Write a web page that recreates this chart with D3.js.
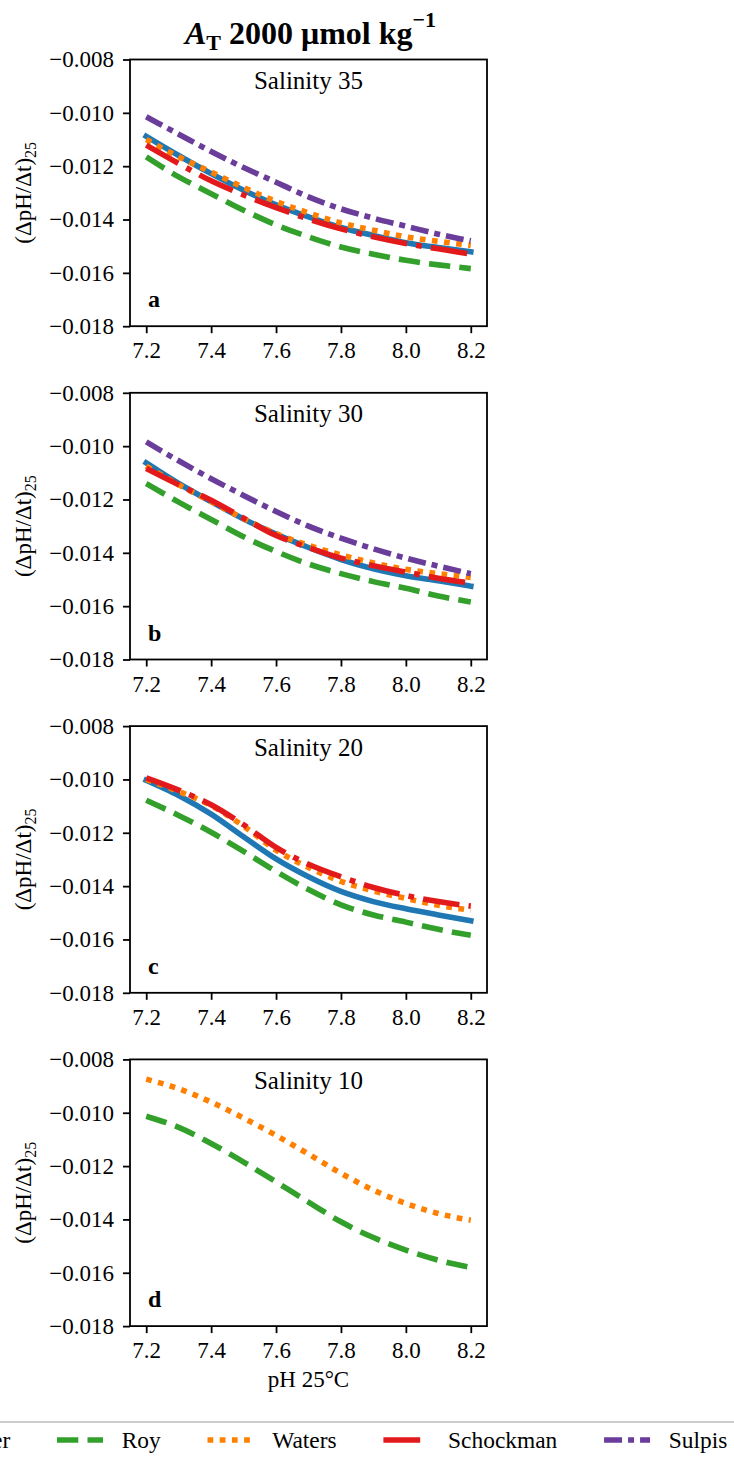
<!DOCTYPE html>
<html>
<head>
<meta charset="utf-8">
<script src="https://cdn.jsdelivr.net/npm/d3@7"></script>
<style>
  html, body { margin: 0; padding: 0; background: #ffffff; }
  svg { display: block; }
</style>
</head>
<body>
<svg id="chart" width="734" height="1460"></svg>
<script>
// pH (25 °C) grid on which each curve was evaluated
const phValues = [7.2, 7.3, 7.4, 7.5, 7.6, 7.7, 7.8, 7.9, 8.0, 8.1, 8.2];

// Salinity 35
const lueker35    = [-0.01088, -0.01160, -0.01228, -0.01290, -0.01345, -0.01390, -0.01430, -0.01460, -0.01487, -0.01505, -0.01521];
const roy35       = [-0.01165, -0.01240, -0.01303, -0.01365, -0.01420, -0.01465, -0.01503, -0.01530, -0.01553, -0.01570, -0.01584];
const waters35    = [-0.01100, -0.01165, -0.01222, -0.01280, -0.01332, -0.01375, -0.01413, -0.01440, -0.01465, -0.01482, -0.01497];
const schockman35 = [-0.01121, -0.01190, -0.01255, -0.01308, -0.01355, -0.01398, -0.01435, -0.01465, -0.01490, -0.01510, -0.01530];
const sulpis35    = [-0.01015, -0.01080, -0.01145, -0.01205, -0.01260, -0.01315, -0.01360, -0.01395, -0.01425, -0.01455, -0.01480];

// Salinity 30
const lueker30    = [-0.01063, -0.01140, -0.01208, -0.01273, -0.01330, -0.01380, -0.01425, -0.01460, -0.01486, -0.01505, -0.01525];
const roy30       = [-0.01140, -0.01210, -0.01275, -0.01340, -0.01395, -0.01442, -0.01478, -0.01508, -0.01533, -0.01562, -0.01584];
const waters30    = [-0.01075, -0.01145, -0.01208, -0.01272, -0.01328, -0.01372, -0.01408, -0.01438, -0.01462, -0.01478, -0.01492];
const schockman30 = [-0.01084, -0.01145, -0.01203, -0.01270, -0.01335, -0.01380, -0.01420, -0.01448, -0.01472, -0.01495, -0.01513];
const sulpis30    = [-0.00984, -0.01055, -0.01122, -0.01185, -0.01245, -0.01300, -0.01345, -0.01385, -0.01420, -0.01450, -0.01478];

// Salinity 20
const lueker20    = [-0.01003, -0.01060, -0.01130, -0.01215, -0.01298, -0.01365, -0.01420, -0.01458, -0.01485, -0.01508, -0.01530];
const roy20       = [-0.01078, -0.01135, -0.01198, -0.01270, -0.01345, -0.01413, -0.01470, -0.01508, -0.01535, -0.01562, -0.01584];
const waters20    = [-0.01000, -0.01045, -0.01098, -0.01175, -0.01265, -0.01330, -0.01382, -0.01418, -0.01446, -0.01472, -0.01490];
const schockman20 = [-0.00994, -0.01040, -0.01095, -0.01170, -0.01255, -0.01318, -0.01365, -0.01405, -0.01435, -0.01458, -0.01475];

// Salinity 10
const roy10       = [-0.01013, -0.01055, -0.01115, -0.01185, -0.01259, -0.01335, -0.01409, -0.01468, -0.01515, -0.01553, -0.01580];
const waters10    = [-0.00874, -0.00910, -0.00960, -0.01020, -0.01085, -0.01155, -0.01227, -0.01290, -0.01340, -0.01378, -0.01403];

const methodNames = ["Lueker", "Roy", "Waters", "Schockman", "Sulpis"];
const salinityLevels = [35, 30, 20, 10];
const panelLetters = ["a", "b", "c", "d"];
const xTickValues = [7.2, 7.4, 7.6, 7.8, 8.0, 8.2];
const yTickValues = [-0.018, -0.016, -0.014, -0.012, -0.010, -0.008];

const panelSeries = [
  { Lueker: lueker35, Roy: roy35, Waters: waters35, Schockman: schockman35, Sulpis: sulpis35 },
  { Lueker: lueker30, Roy: roy30, Waters: waters30, Schockman: schockman30, Sulpis: sulpis30 },
  { Lueker: lueker20, Roy: roy20, Waters: waters20, Schockman: schockman20 },
  { Roy: roy10, Waters: waters10 }
];

// line appearance per method
const LW = 5.6;
const styles = {
  Lueker:    { color: "#1f78b4", dash: null, cap: "square" },
  Roy:       { color: "#33a02c", dash: "21.3,9.2", cap: "butt" },
  Waters:    { color: "#ff7f00", dash: "5.7,6.5", cap: "butt" },
  Schockman: { color: "#e31a1c", dash: "36.8,9.2,5.7,9.2", cap: "butt" },
  Sulpis:    { color: "#6a3d9a", dash: "18,6,6,6", cap: "butt" }
};

const SERIF = '"Liberation Serif", "Times New Roman", Times, serif';

const svg = d3.select("#chart");
svg.append("rect").attr("width", 734).attr("height", 1460).attr("fill", "#fff");

// helper: serif text element
function txt(parent, size) {
  return parent.append("text")
    .style("font-family", SERIF)
    .style("font-size", size + "px")
    .style("fill", "#000");
}

const plotLeft = 130, plotRight = 487;
const plotTop0 = 59.5, panelStep = 333.3, plotH = 266.7;
const tickFont = 23;

const x = d3.scaleLinear().domain([7.15, 8.25]).range([plotLeft, plotRight]);
const fmtY = d3.format(".3f");
const fmtX = d3.format(".1f");

// title
const title = txt(svg, 32)
  .attr("x", (plotLeft + plotRight) / 2 + 2)
  .attr("y", 44)
  .attr("text-anchor", "middle")
  .style("font-weight", "bold");
title.append("tspan").style("font-style", "italic").text("A");
title.append("tspan").style("font-size", "22px").attr("dy", 6).text("T");
title.append("tspan").attr("dy", -6).text(" 2000 μmol kg");
title.append("tspan").style("font-size", "22px").attr("dy", -17).text("−1");

salinityLevels.forEach((sal, i) => {
  const top = plotTop0 + i * panelStep;
  const y = d3.scaleLinear().domain([-0.018, -0.008]).range([top + plotH, top]);
  const g = svg.append("g");

  const clipId = "clip" + i;
  g.append("clipPath").attr("id", clipId)
    .append("rect").attr("x", plotLeft).attr("y", top)
    .attr("width", plotRight - plotLeft).attr("height", plotH);

  const line = d3.line()
    .x((d, k) => x(phValues[k]))
    .y(d => y(d))
    .curve(d3.curveMonotoneX);

  const series = panelSeries[i];
  const lines = g.append("g").attr("clip-path", `url(#${clipId})`);
  methodNames.forEach(m => {
    if (!series[m]) return;
    const st = styles[m];
    lines.append("path")
      .datum(series[m])
      .attr("d", line)
      .attr("fill", "none")
      .attr("stroke", st.color)
      .attr("stroke-width", LW)
      .attr("stroke-linecap", st.cap)
      .attr("stroke-linejoin", "round")
      .attr("stroke-dasharray", st.dash);
  });

  // axes
  const yAxis = d3.axisLeft(y).tickValues(yTickValues).tickFormat(fmtY)
    .tickSize(7).tickPadding(9);
  const gy = g.append("g").attr("transform", `translate(${plotLeft},0)`).call(yAxis);
  const xAxis = d3.axisBottom(x).tickValues(xTickValues).tickFormat(fmtX)
    .tickSize(7).tickPadding(9);
  const gx = g.append("g").attr("transform", `translate(0,${top + plotH})`).call(xAxis);
  [gy, gx].forEach(a => {
    a.select(".domain").remove();
    a.selectAll(".tick line").attr("stroke", "#000").attr("stroke-width", 1.8);
    a.selectAll(".tick text")
      .style("font-family", SERIF)
      .style("font-size", tickFont + "px").style("fill", "#000");
  });
  gx.selectAll(".tick text").attr("dy", null).attr("y", 32);

  // frame
  g.append("rect")
    .attr("x", plotLeft).attr("y", top)
    .attr("width", plotRight - plotLeft).attr("height", plotH)
    .attr("fill", "none").attr("stroke", "#000").attr("stroke-width", 1.8);

  // salinity heading inside panel
  txt(g, 25)
    .attr("x", (plotLeft + plotRight) / 2).attr("y", top + 29.5)
    .attr("text-anchor", "middle")
    .text("Salinity " + sal);

  // panel letter
  txt(g, 24)
    .attr("x", 148).attr("y", top + plotH - 19)
    .style("font-weight", "bold")
    .text(panelLetters[i]);

  // y label
  const yl = txt(g, 23)
    .attr("transform", `translate(31,${top + plotH / 2}) rotate(-90)`)
    .attr("text-anchor", "middle");
  yl.append("tspan").text("(ΔpH/Δt)");
  yl.append("tspan").style("font-size", "16px").attr("dy", 5).text("25");
});

// x label
txt(svg, 23)
  .attr("x", (plotLeft + plotRight) / 2).attr("y", 1387)
  .attr("text-anchor", "middle")
  .text("pH 25°C");

// legend along the bottom
const legendY = 1440;
const legendFont = 23.4;
svg.append("rect")
  .attr("x", -200).attr("y", 1422).attr("width", 1134).attr("height", 80)
  .attr("rx", 6).attr("fill", "#fff").attr("stroke", "#cccccc").attr("stroke-width", 1.8);

const handleLen = 46, textPad = 0.8 * legendFont, colSpace = 2 * legendFont;
// measure label widths to lay out the columns
const measure = txt(svg, legendFont).attr("visibility", "hidden");
const widths = methodNames.map(m => { measure.text(m); return measure.node().getComputedTextLength(); });
measure.remove();
// the "Roy" handle starts at x = 57; the other columns follow from it
const starts = [];
starts[1] = 57;
starts[0] = starts[1] - colSpace - widths[0] - textPad - handleLen;
for (let k = 2; k < methodNames.length; k++) {
  starts[k] = starts[k - 1] + handleLen + textPad + widths[k - 1] + colSpace;
}
methodNames.forEach((m, k) => {
  const st = styles[m];
  svg.append("line")
    .attr("x1", starts[k]).attr("x2", starts[k] + handleLen)
    .attr("y1", legendY).attr("y2", legendY)
    .attr("stroke", st.color).attr("stroke-width", LW)
    .attr("stroke-linecap", "butt")
    .attr("stroke-dasharray", st.dash);
  txt(svg, legendFont)
    .attr("x", starts[k] + handleLen + textPad).attr("y", legendY + 7.5)
    .text(m);
});
</script>
</body>
</html>
